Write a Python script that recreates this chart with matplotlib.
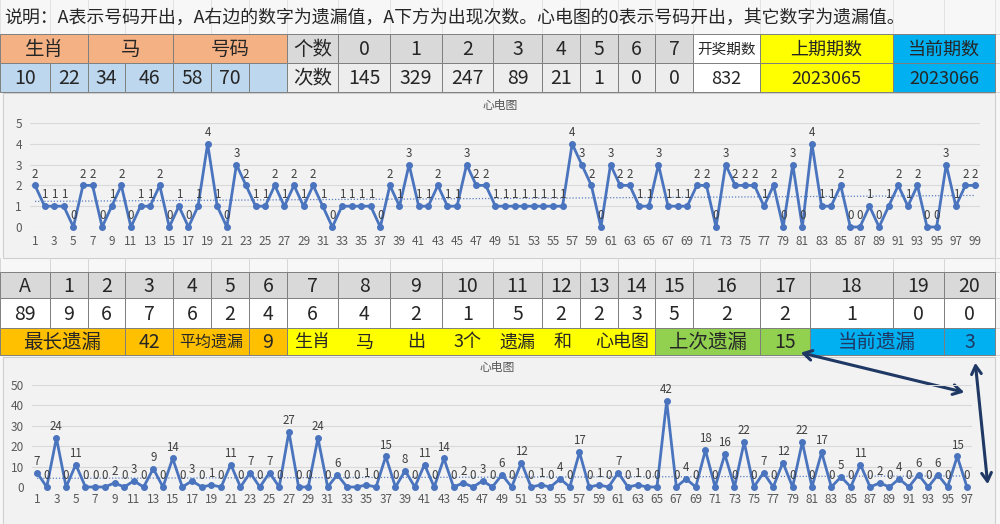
import numpy as np
import matplotlib
matplotlib.use("Agg")
import matplotlib.pyplot as plt
from matplotlib.patches import Rectangle, FancyArrowPatch

plt.rcParams['font.family'] = ['Noto Sans CJK SC', 'DejaVu Sans']

W, H = 1000, 524

NOTE = "说明：A表示号码开出，A右边的数字为遗漏值，A下方为出现次数。心电图的0表示号码开出，其它数字为遗漏值。"

# ── top table ─────────────────────────────────────────────────────────────
HORSE_NUMS = ["10", "22", "34", "46", "58", "70", ""]
COUNT_KEYS = ["0", "1", "2", "3", "4", "5", "6", "7"]
COUNT_VALS = [145, 329, 247, 89, 21, 1, 0, 0]
DRAW_TOTAL = 832
PREV_ISSUE = "2023065"
CUR_ISSUE = "2023066"

# how many horse numbers came out in each of the last 99 draws
HEART1 = [2, 1, 1, 1, 0, 2, 2, 0, 1, 2, 0, 1, 1, 2, 0, 1, 0, 1, 4, 1,
          0, 3, 2, 1, 1, 2, 1, 2, 1, 2, 1, 0, 1, 1, 1, 1, 0, 2, 1, 3,
          1, 1, 2, 1, 1, 3, 2, 2, 1, 1, 1, 1, 1, 1, 1, 1, 4, 3, 2, 0,
          3, 2, 2, 1, 1, 3, 1, 1, 1, 2, 2, 0, 3, 2, 2, 2, 1, 2, 0, 3,
          0, 4, 1, 1, 2, 0, 0, 1, 0, 1, 2, 1, 2, 0, 0, 3, 1, 2, 2]

# ── bottom table ──────────────────────────────────────────────────────────
GAP_KEYS = ["A"] + [str(i) for i in range(1, 21)]
GAP_COUNTS = [89, 9, 6, 7, 6, 2, 4, 6, 4, 2, 1, 5, 2, 2, 3, 5, 2, 2, 1, 0, 0]
MAX_GAP = 42
AVG_GAP = 9
LAST_GAP = 15
CUR_GAP = 3
BANNER = ["生肖", "马", "出", "3个", "遗漏", "和", "心电图"]

# miss values of the last 97 draws
HEART2 = [7, 0, 24, 0, 11, 0, 0, 0, 2, 0, 3, 0, 9, 0, 14, 0, 3, 0, 1, 0,
          11, 0, 7, 0, 7, 0, 27, 0, 0, 24, 0, 6, 0, 0, 1, 0, 15, 0, 8, 0,
          11, 0, 14, 0, 2, 0, 3, 0, 6, 0, 12, 0, 1, 0, 4, 0, 17, 0, 1, 0,
          7, 0, 1, 0, 0, 42, 0, 4, 0, 18, 0, 16, 0, 22, 0, 7, 0, 12, 0, 22,
          0, 17, 0, 5, 0, 11, 0, 2, 0, 4, 0, 6, 0, 6, 0, 15, 0]

# column edges shared by both spreadsheet tables (pixels)
COL_X = [0, 50, 88, 125, 173, 211, 249, 287, 338, 390, 442, 493, 542,
         580, 618, 655, 693, 760, 810, 893, 944, 995]

SALMON = "#F4B183"
LBLUE = "#BDD7EE"
GRAY = "#D9D9D9"
LGRAY = "#EDEDED"
YELLOW = "#FFFF00"
CYAN = "#00B0F0"
ORANGE = "#FFC000"
GREEN = "#92D050"
TXT = "#262626"
LINE = "#4A74BE"


def main():
    fig = plt.figure(figsize=(W / 100, H / 100), dpi=100)
    fig.patch.set_facecolor("#F7F7F7")
    bg = fig.add_axes([0, 0, 1, 1])
    bg.set_xlim(0, W)
    bg.set_ylim(H, 0)
    bg.axis("off")

    def cell(c0, c1, y0, y1, color, text="", size=14, tcolor=TXT, x=None):
        x0, x1 = COL_X[c0], COL_X[c1]
        bg.add_patch(Rectangle((x0, y0), x1 - x0, y1 - y0, facecolor=color,
                               edgecolor="#7F7F7F", lw=0.7, zorder=2))
        if text != "":
            bg.text((x0 + x1) / 2 if x is None else x, (y0 + y1) / 2 + 1, text,
                    ha="center", va="center", fontsize=size, color=tcolor, zorder=3)

    # spreadsheet gridlines in the background
    for yy in [34, 63, 92, 258, 272, 298, 328, 355]:
        bg.plot([995, 1000], [yy, yy], color="#D6D6D6", lw=0.7)
    for xx in COL_X:
        bg.plot([xx, xx], [258, 272], color="#D6D6D6", lw=0.7)
        bg.plot([xx, xx], [0, 34], color="#E2E2E2", lw=0.7)

    bg.text(4, 18, NOTE, ha="left", va="center", fontsize=12.9, color=TXT)

    # ── top table ──
    r0, r1, r2 = 34, 63, 92
    cell(0, 2, r0, r1, SALMON, "生肖")
    cell(2, 4, r0, r1, SALMON, "马")
    cell(4, 7, r0, r1, SALMON, "号码")
    for i, n in enumerate(HORSE_NUMS):
        cell(i, i + 1, r1, r2, LBLUE, n)
    cell(7, 8, r0, r1, GRAY, "个数")
    cell(7, 8, r1, r2, LGRAY, "次数")
    for i, (k, v) in enumerate(zip(COUNT_KEYS, COUNT_VALS)):
        cell(8 + i, 9 + i, r0, r1, GRAY, k)
        cell(8 + i, 9 + i, r1, r2, LGRAY, str(v))
    cell(16, 17, r0, r1, "white", "开奖期数", size=10.5)
    cell(16, 17, r1, r2, "white", str(DRAW_TOTAL), size=13)
    cell(17, 19, r0, r1, YELLOW, "上期期数", size=13)
    cell(17, 19, r1, r2, YELLOW, PREV_ISSUE, size=13)
    cell(19, 21, r0, r1, CYAN, "当前期数", size=13)
    cell(19, 21, r1, r2, CYAN, CUR_ISSUE, size=13)

    # ── bottom table ──
    s0, s1, s2, s3 = 272, 298, 328, 355
    for i, (k, v) in enumerate(zip(GAP_KEYS, GAP_COUNTS)):
        cell(i, i + 1, s0, s1, GRAY, k)
        cell(i, i + 1, s1, s2, "white", str(v))
    cell(0, 3, s2, s3, ORANGE, "最长遗漏")
    cell(3, 4, s2, s3, ORANGE, str(MAX_GAP))
    cell(4, 6, s2, s3, ORANGE, "平均遗漏", size=11.5)
    cell(6, 7, s2, s3, ORANGE, str(AVG_GAP))
    cell(7, 15, s2, s3, YELLOW)
    banner_x = [312, 365, 416, 467, 518, 563, 622]
    for t, bx in zip(BANNER, banner_x):
        bg.text(bx, (s2 + s3) / 2 + 1, t, ha="center", va="center",
                fontsize=13, color=TXT, zorder=3)
    cell(15, 17, s2, s3, GREEN, "上次遗漏")
    cell(17, 18, s2, s3, GREEN, str(LAST_GAP))
    cell(18, 20, s2, s3, CYAN, "当前遗漏", tcolor="#1F3864")
    cell(20, 21, s2, s3, CYAN, str(CUR_GAP), tcolor="#1F3864")

    # chart frames
    bg.add_patch(Rectangle((3, 93), 992, 165, facecolor="#F2F2F2",
                           edgecolor="#CFCFCF", lw=0.8, zorder=1))
    bg.add_patch(Rectangle((3, 357), 992, 170, facecolor="#F2F2F2",
                           edgecolor="#CFCFCF", lw=0.8, zorder=1))
    bg.text(500, 105, "心电图", ha="center", va="center", fontsize=8.5, color="#595959")
    bg.text(497, 367, "心电图", ha="center", va="center", fontsize=8.5, color="#595959")

    def heart(values, left, right, top, bottom, ymax, ystep, xpad, ypad):
        n = len(values)
        ax = fig.add_axes([left / W, 1 - bottom / H, (right - left) / W, (bottom - top) / H])
        ax.patch.set_alpha(0)
        x = np.arange(1, n + 1)
        y = np.array(values)
        ax.set_xlim(0.5, n + 0.5)
        ax.set_ylim(0, ymax)
        ax.set_yticks(np.arange(0, ymax + ystep / 2, ystep))
        ax.set_xticks(np.arange(1, n + 1, 2))
        ax.grid(axis="y", color="#D9D9D9", lw=0.8)
        ax.set_axisbelow(True)
        for s in ax.spines.values():
            s.set_visible(False)
        ax.tick_params(length=0, labelsize=8.5, labelcolor="#595959")
        ax.tick_params(axis="x", pad=xpad)
        ax.tick_params(axis="y", pad=ypad)
        # linear trend line, as in the Excel chart
        k, b = np.polyfit(x, y, 1)
        ax.plot(x, k * x + b, ls=(0, (1, 1.5)), color="#5B7FC0", lw=0.9)
        ax.plot(x, y, color=LINE, lw=2, marker="o", ms=4, clip_on=False)
        for xi, yi in zip(x, y):
            ax.annotate(str(yi), (xi, yi), xytext=(0, 3.5), textcoords="offset points",
                        ha="center", va="bottom", fontsize=8.3, color="#404040",
                        annotation_clip=False)
        return ax

    heart(HEART1, 30.2, 979.8, 123, 227, 5, 1, 5.5, 6)
    heart(HEART2, 32.2, 971.8, 385, 487, 50, 10, 4.5, 6)

    # annotation arrows
    navy = "#1F3864"
    for p0, p1 in [((798, 352), (967, 393)), ((975, 360), (988, 487))]:
        bg.add_patch(FancyArrowPatch(p0, p1, arrowstyle="<->,head_length=6,head_width=3.5",
                                     color=navy, lw=2.2, zorder=5))

    fig.savefig("out.png", dpi=100)
    plt.close(fig)


if __name__ == "__main__":
    main()
